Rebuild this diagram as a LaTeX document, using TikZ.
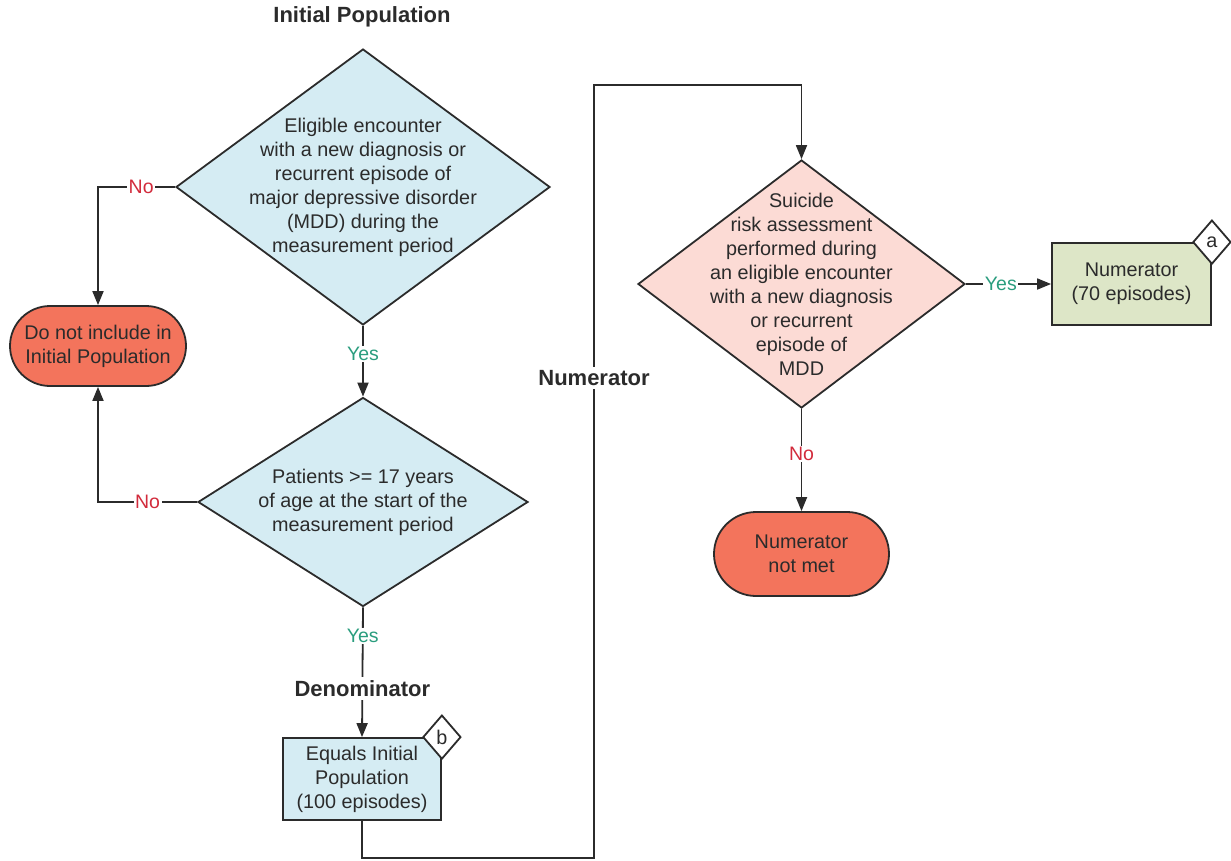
\documentclass[tikz,border=0pt]{standalone}
\usepackage{fontspec}
\setmainfont{Liberation Sans}
\usetikzlibrary{arrows.meta,shapes.geometric}
\definecolor{lblue}{HTML}{D5ECF3}
\definecolor{orng}{HTML}{F3745C}
\definecolor{pinkfill}{HTML}{FCDBD5}
\definecolor{grnfill}{HTML}{DDE6C7}
\definecolor{yesc}{HTML}{2A9D7E}
\definecolor{noc}{HTML}{D22B3C}
\definecolor{ln}{HTML}{2B2B2B}
\begin{document}
\begin{tikzpicture}[x=1pt,y=-1pt,
  font=\fontsize{19.8}{24}\selectfont, text=ln,
  decision/.style={diamond, draw=ln, line width=1.8pt, inner sep=0pt},
  procbox/.style={rectangle, draw=ln, line width=1.8pt, inner sep=0pt, align=center},
  endbox/.style={rectangle, draw=ln, line width=1.8pt, fill=orng, inner sep=0pt, align=center},
  tagbox/.style={diamond, draw=ln, line width=1.8pt, fill=white, inner sep=0pt, minimum width=38pt, minimum height=44pt},
  flow/.style={draw=ln, line width=1.8pt, -{Triangle[length=14pt,width=11pt]}},
  lab/.style={fill=white, inner sep=1.5pt, font=\fontsize{19.5}{22}\selectfont},
  yeslab/.style={lab, text=yesc},
  nolab/.style={lab, text=noc},
  heading/.style={font=\bfseries\fontsize{22}{24}\selectfont, text=ln}
]
\useasboundingbox (0,0) rectangle (1231,860);

\node[heading] (tip) at (362,17) {Initial Population};

\node[decision, fill=lblue, minimum width=374pt, minimum height=276pt,
  label={[align=center, text=ln]center:{Eligible encounter\\with a new diagnosis or\\recurrent episode of\\major depressive disorder\\(MDD) during the\\measurement period}}]
  (d1) at (363,187) {};

\node[endbox, minimum width=176pt, minimum height=80pt, rounded corners=40pt] (ex) at (98,346)
  {Do not include in\\Initial Population};

\node[decision, fill=lblue, minimum width=330pt, minimum height=209pt,
  label={[align=center, text=ln]center:{Patients >= 17 years\\of age at the start of the\\measurement period}}]
  (d2) at (363,502) {};

\node[procbox, fill=lblue, minimum width=158pt, minimum height=82pt] (eq) at (362,779)
  {Equals Initial\\Population\\(100 episodes)};
\node[tagbox] (tb) at (eq.north east) {b};

\node[decision, fill=pinkfill, minimum width=327pt, minimum height=248pt,
  label={[align=center, text=ln]center:{Suicide\\risk assessment\\performed during\\an eligible encounter\\with a new diagnosis\\or recurrent\\episode of\\MDD}}]
  (d3) at (801.5,284) {};

\node[procbox, fill=grnfill, minimum width=159pt, minimum height=82pt] (num) at (1131.5,284)
  {Numerator\\(70 episodes)};
\node[tagbox] (ta) at (num.north east) {a};

\node[endbox, minimum width=175pt, minimum height=84pt, rounded corners=42pt] (nm) at (801.5,554)
  {Numerator\\not met};

\coordinate (c1) at (362,858);
\coordinate (c2) at (594,858);
\coordinate (c3) at (594,85);
\coordinate (c4) at (801.5,85);

\draw[flow] (d1.west) -- node[nolab, pos=0.44] {No} (ex.north |- d1.west) -- (ex.north);
\draw[flow] (d1.south) -- node[yeslab, pos=0.4] {Yes} (d2.north);
\draw[flow] (d2.west) -- node[nolab, pos=0.5] {No} (ex.south |- d2.west) -- (ex.south);
\draw[flow] (d2.south) -- node[yeslab, pos=0.22] {Yes} node[heading, fill=white, inner sep=3pt, pos=0.625] {Denominator} (eq.north);
\draw[flow] (eq.south) -- (c1) -- (c2) -- node[heading, fill=white, inner sep=3pt, pos=0.621] {Numerator} (c3) -- (c4) -- (d3.north);
\draw[flow] (d3.east) -- node[yeslab, pos=0.41] {Yes} (num.west);
\draw[flow] (d3.south) -- node[nolab, pos=0.44] {No} (nm.north);
\end{tikzpicture}
\end{document}
